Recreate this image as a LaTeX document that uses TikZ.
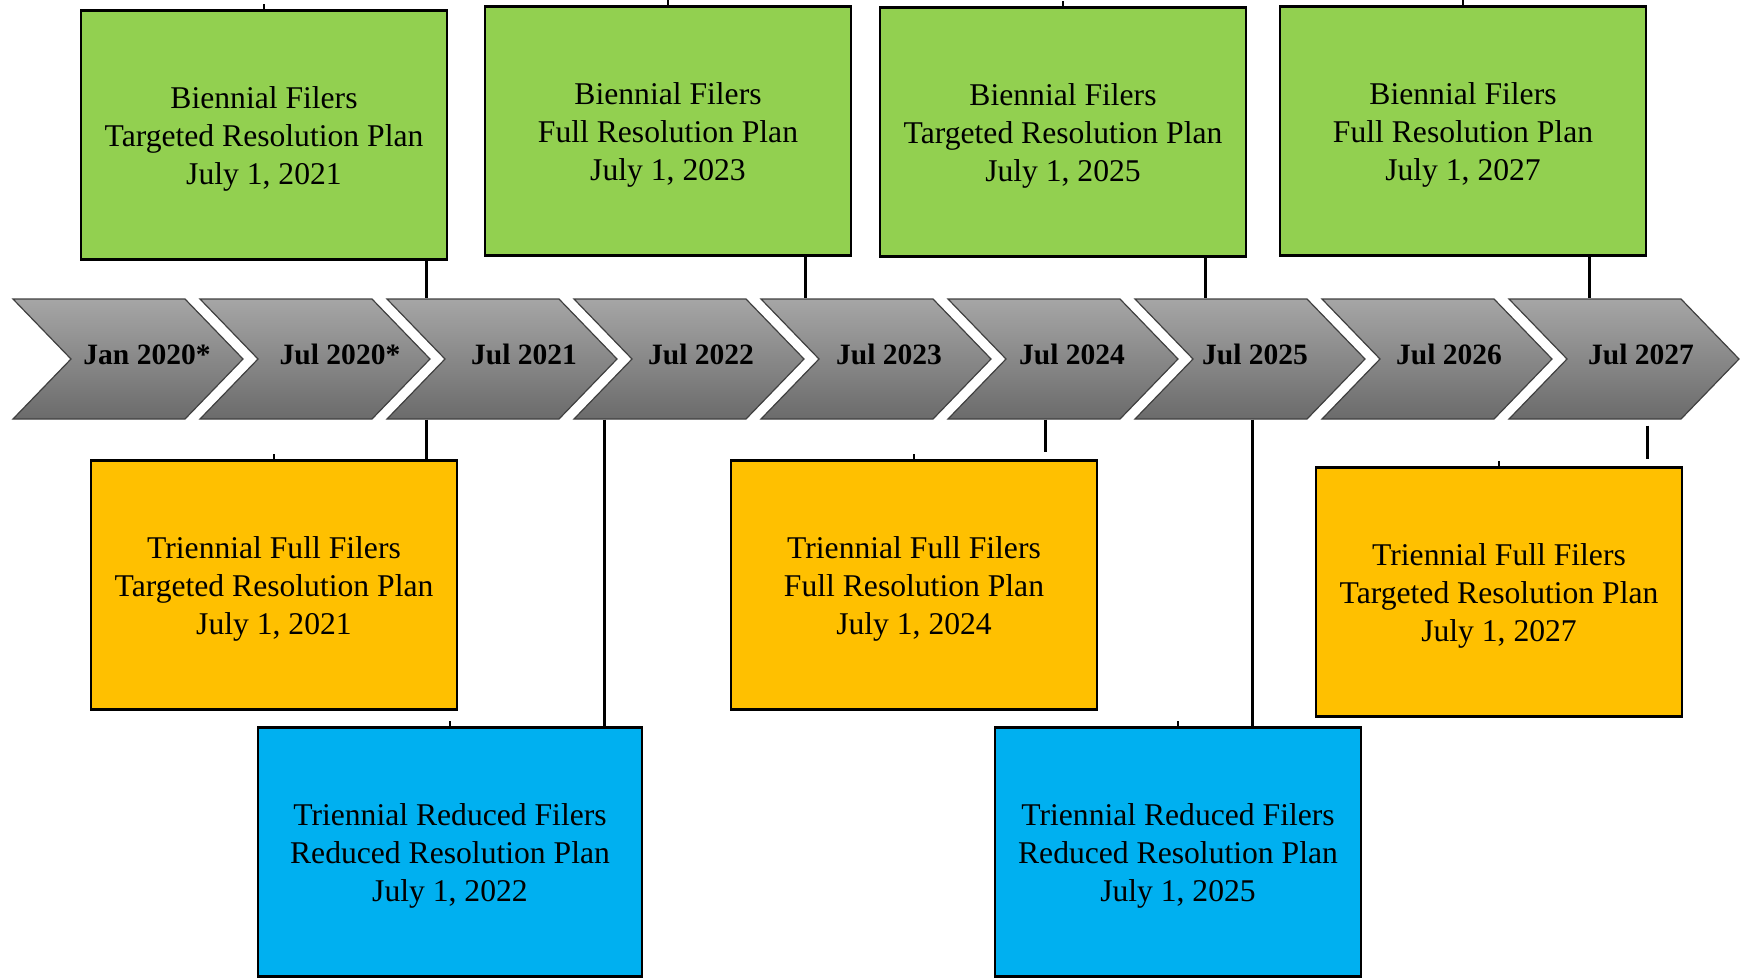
\documentclass[tikz,border=0pt]{standalone}
\usepackage{fontspec}
\setmainfont{Liberation Serif}
\usepackage{xcolor}
\usetikzlibrary{positioning, calc}
\definecolor{planGreen}{HTML}{92D050}
\definecolor{planOrange}{HTML}{FFC000}
\definecolor{planBlue}{HTML}{00B0F0}
% pushes the three text lines a little lower in the boxes
\newcommand{\planstrut}{\rule{0pt}{8.6pt}}

\begin{document}
\begin{tikzpicture}[
			x=0.1mm, y=-0.1mm,
			every node/.style={font=\fontsize{9}{10.8}\selectfont},
			%% Node styles
			plan/.style={rectangle, draw=black, line width=0.25mm, align=center,
				minimum width=36.6mm, minimum height=24.9mm, inner sep=0pt},
			biennial/.style={plan, fill=planGreen},
			trifull/.style={plan, fill=planOrange},
			trireduced/.style={plan, fill=planBlue},
			chevron/.style={draw=black!75, line width=0.12mm,
				top color=black!35, bottom color=black!58},
			datelbl/.style={font=\fontsize{8.4}{10}\selectfont\bfseries,
				minimum height=12mm, inner sep=0pt, text depth=2.6pt},
			%% Line styles
			link/.style={line width=0.3mm},
			stub/.style={line width=0.2mm},
			]
			\useasboundingbox (0,0) rectangle (1746,977);
			\clip (0,0) rectangle (1746,977);
			
			%% ── Timeline chevrons ───────────────────────────────────────────
			\foreach \lbl/\dx [count=\i] in {Jan 2020*/134, Jul 2020*/140,
				Jul 2021/137, Jul 2022/127, Jul 2023/128, Jul 2024/124,
				Jul 2025/120, Jul 2026/127, Jul 2027/132} {
				\pgfmathsetmacro\xl{13+187*(\i-1)}
				\draw[chevron] (\xl,299) -- ++(172,0) -- ++(58,60) -- ++(-58,60)
				-- ++(-172,0) -- ++(58,-60) -- cycle;
				\node[datelbl] (c\i) at (\xl+\dx,359) {\lbl};
			}
			
			%% ── Plan boxes above the timeline ───────────────────────────────
			\node[biennial] (g1) at (264,135)
			{\planstrut Biennial Filers\\Targeted Resolution Plan\\July 1, 2021};
			\node[biennial] (g2) at (668,131)
			{\planstrut Biennial Filers\\Full Resolution Plan\\July 1, 2023};
			\node[biennial] (g3) at (1063,132)
			{\planstrut Biennial Filers\\Targeted Resolution Plan\\July 1, 2025};
			\node[biennial] (g4) at (1463,131)
			{\planstrut Biennial Filers\\Full Resolution Plan\\July 1, 2027};
			
			%% ── Plan boxes below the timeline ───────────────────────────────
			\node[trifull] (o1) at (274,585)
			{\planstrut Triennial Full Filers\\Targeted Resolution Plan\\July 1, 2021};
			\node[trifull] (o2) at (914,585)
			{\planstrut Triennial Full Filers\\Full Resolution Plan\\July 1, 2024};
			\node[trifull] (o3) at (1499,592)
			{\planstrut Triennial Full Filers\\Targeted Resolution Plan\\July 1, 2027};
			\node[trireduced, minimum width=38.4mm] (b1) at (450,852)
			{\planstrut Triennial Reduced Filers\\Reduced Resolution Plan\\July 1, 2022};
			\node[trireduced] (b2) at (1178,852)
			{\planstrut Triennial Reduced Filers\\Reduced Resolution Plan\\July 1, 2025};
			
			%% x positions of the ties
			\coordinate (t1) at (426,0);
			\coordinate (t2) at (604,0);
			\coordinate (t3) at (805,0);
			\coordinate (t4) at (1045,0);
			\coordinate (t5) at (1205,0);
			\coordinate (t6) at (1252,0);
			\coordinate (t7) at (1589,0);
			\coordinate (t8) at (1647,0);
			
			%% ── Ties between boxes and timeline ─────────────────────────────
			\draw[link] (g1.south -| t1) -- (c3.north -| t1);
			\draw[link] (c3.south -| t1) -- (o1.north -| t1);
			\draw[link] (c4.south -| t2) -- (b1.north -| t2);
			\draw[link] (g2.south -| t3) -- (c5.north -| t3);
			\draw[link] (c6.south -| t4) -- ($(o2.north -| t4)+(0,-7)$);
			\draw[link] (g3.south -| t5) -- (c7.north -| t5);
			\draw[link] (c7.south -| t6) -- (b2.north -| t6);
			\draw[link] (g4.south -| t7) -- (c9.north -| t7);
			\draw[link] ($(c9.south -| t8)+(0,6)$) -- ($(o3.north -| t8)+(0,-7)$);
			
			%% small stubs on top of every box
			\foreach \n in {g1,g2,g3,g4,o1,o2,o3,b1,b2}
			\draw[stub] (\n.north) -- ++(0,-5);
			
		\end{tikzpicture}
\end{document}
